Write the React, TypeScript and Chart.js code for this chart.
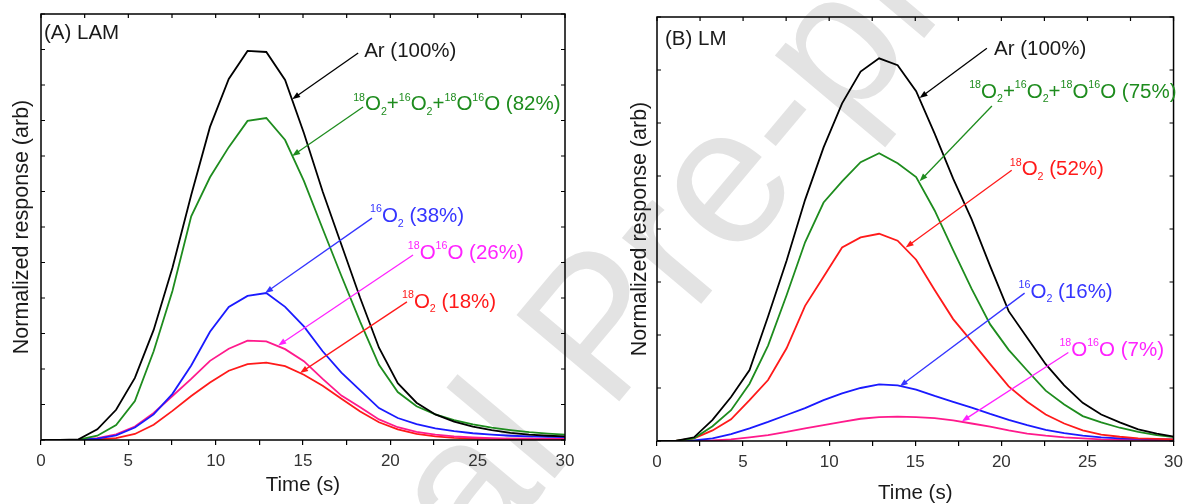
import React, { useEffect, useRef } from 'react';
import { Chart, registerables } from 'chart.js';

Chart.register(...registerables);

const FONT = '"Liberation Sans", Arial, Helvetica, sans-serif';

// Sampling times (s): one mass-spec scan every 1.075 s
const TIME = [
  0, 1.075, 2.15, 3.225, 4.3, 5.375, 6.45, 7.525, 8.6, 9.675, 10.75, 11.825, 12.9, 13.975,
  15.05, 16.125, 17.2, 18.275, 19.35, 20.425, 21.5, 22.575, 23.65, 24.725, 25.8, 26.875,
  27.95, 29.025, 30.1,
];

// Panel A (LAM) responses, arb. units
const LAM_AR = [0, 0, 0.02, 0.3, 0.85, 1.75, 3.1, 4.85, 6.9, 8.82, 10.17, 10.96, 10.93, 10.14, 8.65, 7.0, 5.5, 4.0, 2.6, 1.6, 1.05, 0.72, 0.52, 0.38, 0.28, 0.2, 0.15, 0.12, 0.1];
const LAM_O2_TOTAL = [0, 0, 0.01, 0.12, 0.42, 1.1, 2.5, 4.2, 6.3, 7.4, 8.25, 8.99, 9.07, 8.45, 7.3, 5.95, 4.62, 3.33, 2.12, 1.35, 0.95, 0.72, 0.56, 0.44, 0.35, 0.28, 0.22, 0.18, 0.15];
const LAM_16O2 = [0, 0, 0.01, 0.04, 0.13, 0.35, 0.72, 1.3, 2.1, 3.05, 3.75, 4.06, 4.14, 3.75, 3.2, 2.5, 1.9, 1.4, 0.9, 0.62, 0.45, 0.33, 0.25, 0.19, 0.15, 0.12, 0.1, 0.09, 0.08];
const LAM_18O16O = [0, 0, 0.01, 0.05, 0.16, 0.38, 0.76, 1.24, 1.72, 2.23, 2.57, 2.8, 2.78, 2.56, 2.22, 1.72, 1.25, 0.92, 0.58, 0.36, 0.23, 0.15, 0.1, 0.07, 0.05, 0.04, 0.04, 0.03, 0.03];
const LAM_18O2 = [0, 0, 0, 0.02, 0.05, 0.17, 0.43, 0.82, 1.24, 1.62, 1.95, 2.14, 2.18, 2.08, 1.84, 1.53, 1.16, 0.8, 0.5, 0.3, 0.17, 0.1, 0.06, 0.04, 0.03, 0.02, 0.02, 0.02, 0.02];

// Panel B (LM) responses, arb. units
const LM_AR = [0, 0, 0.07, 0.4, 0.83, 1.34, 2.35, 3.4, 4.55, 5.54, 6.37, 6.97, 7.22, 7.09, 6.6, 5.8, 4.95, 4.18, 3.3, 2.45, 1.95, 1.45, 1.05, 0.72, 0.5, 0.35, 0.22, 0.14, 0.08];
const LM_O2_TOTAL = [0, 0, 0.05, 0.28, 0.58, 1.08, 1.8, 2.75, 3.75, 4.5, 4.9, 5.26, 5.43, 5.24, 4.98, 4.35, 3.6, 2.87, 2.2, 1.72, 1.33, 0.95, 0.69, 0.47, 0.35, 0.25, 0.17, 0.11, 0.07];
const LM_18O2 = [0, 0, 0.05, 0.2, 0.41, 0.77, 1.15, 1.75, 2.55, 3.1, 3.65, 3.84, 3.91, 3.78, 3.42, 2.85, 2.3, 1.88, 1.45, 1.03, 0.74, 0.5, 0.33, 0.2, 0.12, 0.08, 0.05, 0.04, 0.03];
const LM_16O2 = [0, 0, 0.01, 0.05, 0.13, 0.24, 0.36, 0.49, 0.62, 0.77, 0.9, 1.0, 1.07, 1.05, 0.97, 0.85, 0.74, 0.63, 0.51, 0.4, 0.3, 0.21, 0.15, 0.1, 0.07, 0.05, 0.04, 0.03, 0.03];
const LM_18O16O = [0, 0, 0, 0.01, 0.03, 0.07, 0.11, 0.17, 0.24, 0.3, 0.36, 0.42, 0.45, 0.46, 0.45, 0.43, 0.39, 0.33, 0.27, 0.2, 0.14, 0.1, 0.07, 0.05, 0.03, 0.02, 0.02, 0.01, 0.01];

// Axis ranges and tick spacing
const X_MAX = 30;
const X_TICK_STEP = 2.5;
const X_LABEL_STEP = 5;
const LAM_Y_MAX = 12;
const LM_Y_MAX = 8;

const BLACK = '#000000';
const GREEN = '#1e8c1e';
const BLUE = '#1a1aff';
const PINK = '#ff1a8c';
const RED = '#ff1a1a';
const MAGENTA = '#ff22ff';

const NOTE_SIZE = 20.5;
const SMALL_RATIO = 0.52;

type Seg = { text: string; kind?: 'sup' | 'sub' };
type Note = {
  segs: Seg[];
  color: string;
  at: [number, number]; // label left edge / vertical centre, data units
  from: [number, number]; // arrow tail, data units
  to: [number, number]; // arrow head, data units
};

const sup = (text: string): Seg => ({ text, kind: 'sup' });
const sub = (text: string): Seg => ({ text, kind: 'sub' });
const txt = (text: string): Seg => ({ text });

const O2_SUM_SEGS = (pct: string): Seg[] => [
  sup('18'), txt('O'), sub('2'), txt('+'), sup('16'), txt('O'), sub('2'), txt('+'),
  sup('18'), txt('O'), sup('16'), txt('O (' + pct + ')'),
];

const LAM_NOTES: Note[] = [
  { segs: [txt('Ar (100%)')], color: '#1a1a1a', at: [18.5, 11.01], from: [18.16, 10.9], to: [14.38, 9.6] },
  { segs: O2_SUM_SEGS('82%'), color: GREEN, at: [17.87, 9.49], from: [18.44, 9.38], to: [14.38, 8.0] },
  { segs: [sup('16'), txt('O'), sub('2'), txt(' (38%)')], color: '#3535ff', at: [18.84, 6.34], from: [18.95, 6.25], to: [12.83, 4.14] },
  { segs: [sup('18'), txt('O'), sup('16'), txt('O (26%)')], color: MAGENTA, at: [21.0, 5.3], from: [21.3, 5.21], to: [13.58, 2.66] },
  { segs: [sup('18'), txt('O'), sub('2'), txt(' (18%)')], color: RED, at: [20.67, 3.94], from: [20.95, 3.89], to: [14.83, 1.89] },
];

const LM_NOTES: Note[] = [
  { segs: [txt('Ar (100%)')], color: '#1a1a1a', at: [19.57, 7.43], from: [19.16, 7.41], to: [15.25, 6.47] },
  { segs: O2_SUM_SEGS('75%'), color: GREEN, at: [18.13, 6.62], from: [19.45, 6.32], to: [15.25, 4.9] },
  { segs: [sup('18'), txt('O'), sub('2'), txt(' (52%)')], color: RED, at: [20.49, 5.15], from: [20.6, 5.11], to: [14.44, 3.65] },
  { segs: [sup('16'), txt('O'), sub('2'), txt(' (16%)')], color: '#3535ff', at: [21.0, 2.84], from: [21.35, 2.79], to: [14.1, 1.03] },
  { segs: [sup('18'), txt('O'), sup('16'), txt('O (7%)')], color: MAGENTA, at: [23.37, 1.75], from: [23.89, 1.67], to: [17.7, 0.37] },
];

function drawRich(ctx: CanvasRenderingContext2D, segs: Seg[], x: number, yMid: number, size: number, color: string) {
  const base = yMid + size * 0.36;
  let cx = x;
  ctx.fillStyle = color;
  ctx.textAlign = 'left';
  ctx.textBaseline = 'alphabetic';
  for (const s of segs) {
    const fs = s.kind ? size * SMALL_RATIO : size;
    ctx.font = `${fs}px ${FONT}`;
    let y = base;
    if (s.kind === 'sup') y = base - size * 0.48;
    if (s.kind === 'sub') y = base + size * 0.21;
    ctx.fillText(s.text, cx, y);
    cx += ctx.measureText(s.text).width;
  }
}

function drawArrow(ctx: CanvasRenderingContext2D, x0: number, y0: number, x1: number, y1: number, color: string) {
  const a = Math.atan2(y1 - y0, x1 - x0);
  const L = 8;
  const W = 3;
  ctx.strokeStyle = color;
  ctx.fillStyle = color;
  ctx.lineWidth = 1.3;
  ctx.beginPath();
  ctx.moveTo(x0, y0);
  ctx.lineTo(x1 - (L - 2) * Math.cos(a), y1 - (L - 2) * Math.sin(a));
  ctx.stroke();
  ctx.beginPath();
  ctx.moveTo(x1, y1);
  ctx.lineTo(x1 - L * Math.cos(a) + W * Math.sin(a), y1 - L * Math.sin(a) - W * Math.cos(a));
  ctx.lineTo(x1 - L * Math.cos(a) - W * Math.sin(a), y1 - L * Math.sin(a) + W * Math.cos(a));
  ctx.closePath();
  ctx.fill();
}

// Box frame with inward ticks on top/left/right, panel tag and arrowed labels
function framePlugin(tag: string, tagOffset: [number, number], notes: Note[]) {
  return {
    id: 'frameAndNotes',
    afterDatasetsDraw(chart: any) {
      const { ctx, chartArea } = chart;
      const { left, right, top, bottom } = chartArea;
      const xs = chart.scales.x;
      const ys = chart.scales.y;
      ctx.save();
      ctx.strokeStyle = '#000';
      ctx.lineWidth = 1.5;
      ctx.strokeRect(left, top, right - left, bottom - top);
      ctx.lineWidth = 1.2;
      ctx.beginPath();
      xs.ticks.forEach((t: any) => {
        const px = xs.getPixelForValue(t.value);
        ctx.moveTo(px, top);
        ctx.lineTo(px, top + 4);
      });
      ys.ticks.forEach((t: any) => {
        const py = ys.getPixelForValue(t.value);
        ctx.moveTo(left, py);
        ctx.lineTo(left + 4, py);
        ctx.moveTo(right, py);
        ctx.lineTo(right - 4, py);
      });
      ctx.stroke();

      drawRich(ctx, [txt(tag)], left + tagOffset[0], top + tagOffset[1], 20.5, '#1a1a1a');

      for (const n of notes) {
        drawArrow(
          ctx,
          xs.getPixelForValue(n.from[0]), ys.getPixelForValue(n.from[1]),
          xs.getPixelForValue(n.to[0]), ys.getPixelForValue(n.to[1]),
          n.color === '#1a1a1a' ? '#000' : n.color,
        );
        drawRich(ctx, n.segs, xs.getPixelForValue(n.at[0]), ys.getPixelForValue(n.at[1]), NOTE_SIZE, n.color);
      }
      ctx.restore();
    },
  };
}

type Series = { data: number[]; color: string };

type PanelSpec = {
  series: Series[];
  yMax: number;
  width: number;
  padTop: number;
  padRight: number;
  yAxisWidth: number;
  xAxisHeight: number;
  yTitlePad: number;
  xTitlePad: number;
  tag: string;
  tagOffset: [number, number];
  notes: Note[];
};

function buildConfig(p: PanelSpec): any {
  return {
    type: 'line',
    data: {
      datasets: p.series.map((s) => ({
        data: TIME.map((t, i) => ({ x: t, y: s.data[i] })),
        borderColor: s.color,
        borderWidth: 1.8,
        pointRadius: 0,
        tension: 0,
        fill: false,
      })),
    },
    options: {
      animation: false,
      responsive: false,
      events: [],
      layout: { padding: { left: 0, top: p.padTop, right: p.padRight, bottom: 0 } },
      plugins: { legend: { display: false }, tooltip: { enabled: false } },
      scales: {
        x: {
          type: 'linear',
          min: 0,
          max: X_MAX,
          afterFit: (s: any) => { s.height = p.xAxisHeight; },
          ticks: {
            stepSize: X_TICK_STEP,
            autoSkip: false,
            maxRotation: 0,
            padding: 6,
            color: '#333',
            font: { family: FONT, size: 17 },
            callback: (v: number) => (v % X_LABEL_STEP === 0 ? String(v) : ''),
          },
          grid: { display: true, drawOnChartArea: false, drawTicks: true, tickLength: 5, color: '#000', lineWidth: 1.2 },
          border: { display: false },
          title: {
            display: true,
            text: 'Time (s)',
            color: '#1a1a1a',
            font: { family: FONT, size: 20.5 },
            padding: { top: 0, bottom: p.xTitlePad },
          },
        },
        y: {
          type: 'linear',
          min: 0,
          max: p.yMax,
          afterFit: (s: any) => { s.width = p.yAxisWidth; },
          ticks: { display: false, stepSize: 1 },
          grid: { display: false },
          border: { display: false },
          title: {
            display: true,
            text: 'Normalized response (arb)',
            color: '#1a1a1a',
            font: { family: FONT, size: 21.5 },
            padding: { top: p.yTitlePad, bottom: 0 },
          },
        },
      },
    },
    plugins: [framePlugin(p.tag, p.tagOffset, p.notes)],
  };
}

function Panel({ spec, left }: { spec: PanelSpec; left: number }) {
  const ref = useRef<HTMLCanvasElement | null>(null);
  useEffect(() => {
    if (!ref.current) return;
    const chart = new Chart(ref.current, buildConfig(spec));
    return () => chart.destroy();
  }, [spec]);
  return (
    <canvas
      ref={ref}
      width={spec.width}
      height={504}
      style={{ position: 'absolute', left, top: 0, width: spec.width, height: 504, display: 'block' }}
    />
  );
}

const LAM_SPEC: PanelSpec = {
  series: [
    { data: LAM_AR, color: BLACK },
    { data: LAM_O2_TOTAL, color: GREEN },
    { data: LAM_16O2, color: BLUE },
    { data: LAM_18O16O, color: PINK },
    { data: LAM_18O2, color: RED },
  ],
  yMax: LAM_Y_MAX,
  width: 600,
  padTop: 14,
  padRight: 35,
  yAxisWidth: 41,
  xAxisHeight: 64,
  yTitlePad: 9.1,
  xTitlePad: 6.4,
  tag: '(A) LAM',
  tagOffset: [3, 18],
  notes: LAM_NOTES,
};

const LM_SPEC: PanelSpec = {
  series: [
    { data: LM_AR, color: BLACK },
    { data: LM_O2_TOTAL, color: GREEN },
    { data: LM_18O2, color: RED },
    { data: LM_16O2, color: BLUE },
    { data: LM_18O16O, color: PINK },
  ],
  yMax: LM_Y_MAX,
  width: 589,
  padTop: 17,
  padRight: 11,
  yAxisWidth: 57,
  xAxisHeight: 63,
  yTitlePad: 27.1,
  xTitlePad: -1.5,
  tag: '(B) LM',
  tagOffset: [8, 21],
  notes: LM_NOTES,
};

// Diagonal "Journal Pre-proof" stamp behind both panels
function Stamp() {
  const ref = useRef<HTMLCanvasElement | null>(null);
  useEffect(() => {
    const c = ref.current;
    if (!c) return;
    const ctx = c.getContext('2d');
    if (!ctx) return;
    ctx.clearRect(0, 0, c.width, c.height);
    ctx.save();
    ctx.translate(163, 945);
    ctx.rotate((-50 * Math.PI) / 180);
    ctx.font = `195px ${FONT}`;
    ctx.fillStyle = '#e3e3e3';
    ctx.textBaseline = 'alphabetic';
    ctx.fillText('Journal Pre-proof', 0, 0);
    ctx.restore();
  }, []);
  return (
    <canvas
      ref={ref}
      width={1189}
      height={504}
      style={{ position: 'absolute', left: 0, top: 0, width: 1189, height: 504, display: 'block' }}
    />
  );
}

export default function App() {
  return (
    <div style={{ position: 'fixed', left: 0, top: 0, width: 1189, height: 504, background: '#fff', overflow: 'hidden' }}>
      <Stamp />
      <Panel spec={LAM_SPEC} left={0} />
      <Panel spec={LM_SPEC} left={600} />
    </div>
  );
}
